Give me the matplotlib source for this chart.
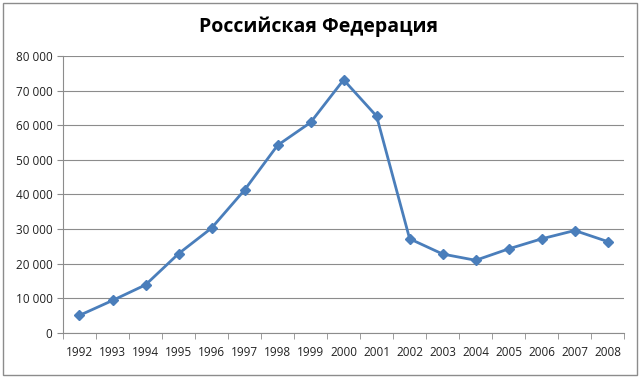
import matplotlib.pyplot as plt
from matplotlib.patches import Rectangle
from matplotlib.ticker import FuncFormatter

# Data
years = ['1992', '1993', '1994', '1995', '1996', '1997', '1998', '1999', '2000',
         '2001', '2002', '2003', '2004', '2005', '2006', '2007', '2008']
values = [5100, 9400, 13900, 22900, 30300, 41300, 54200, 60800, 73100,
          62600, 27200, 22800, 21000, 24300, 27200, 29600, 26400]

title = 'Российская Федерация'
line_color = '#4A7EBB'

plt.rcParams['font.family'] = ['Open Sans', 'DejaVu Sans']

fig = plt.figure(figsize=(6.4, 3.78), dpi=100)
ax = fig.add_axes([0.0984, 0.119, 0.877, 0.733])

x = list(range(len(years)))
ax.plot(x, values, color=line_color, linewidth=2.0, marker='D', markersize=5,
        markerfacecolor=line_color, markeredgecolor=line_color, zorder=3)

ax.set_xlim(-0.5, len(years) - 0.5)
ax.set_ylim(0, 80000)
ax.set_yticks(range(0, 80001, 10000))
ax.yaxis.set_major_formatter(FuncFormatter(lambda v, p: f'{int(v):,}'.replace(',', ' ')))
ax.set_xticks(x)
ax.set_xticklabels(years)
ax.set_xticks([i - 0.5 for i in range(len(years) + 1)], minor=True)

ax.grid(axis='y', color='#8c8c8c', linewidth=0.8)
ax.set_axisbelow(True)
for side in ['top', 'right']:
    ax.spines[side].set_visible(False)
for side in ['left', 'bottom']:
    ax.spines[side].set_color('#8c8c8c')

ax.tick_params(axis='x', which='major', length=0, pad=9, labelsize=8.5, colors='#222222')
ax.tick_params(axis='x', which='minor', length=4, color='#8c8c8c')
ax.tick_params(axis='y', length=4, color='#8c8c8c', labelsize=8.5, labelcolor='#222222')

fig.text(0.497, 0.93, title, ha='center', va='center', fontsize=14, fontweight='bold')

# outer chart border
fig.patches.append(Rectangle((0.004, 0.007), 0.992, 0.986, transform=fig.transFigure,
                             fill=False, edgecolor='#8c8c8c', linewidth=1.0))

fig.savefig('out.png', dpi=100)
